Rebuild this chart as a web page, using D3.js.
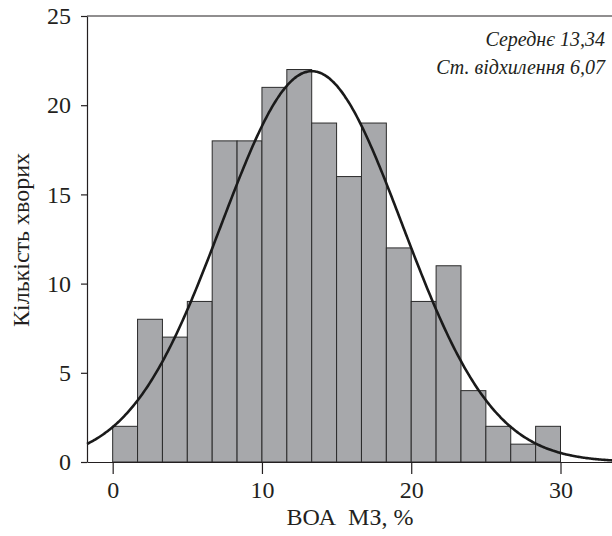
<!DOCTYPE html>
<html>
<head>
<meta charset="utf-8">
<script src="https://cdn.jsdelivr.net/npm/d3@7"></script>
<style>
  body { margin: 0; background: #fff; }
  text { font-family: "Liberation Serif", "DejaVu Serif", serif; fill: #231f20; }
</style>
</head>
<body>
<div id="chart"></div>
<script>
// Histogram data: 18 bins of equal width from 0 to 30 %
const binEdges = d3.range(19).map(i => i * 30 / 18);
const counts = [2, 8, 7, 9, 18, 18, 21, 22, 19, 16, 19, 12, 9, 11, 4, 2, 1, 2];
const xTicks = [0, 10, 20, 30];
const yTicks = [0, 5, 10, 15, 20, 25];
const mean = 13.34, sd = 6.07;
const statLines = ["Середнє 13,34", "Ст. відхилення 6,07"];

const margin = { top: 16, right: 0, bottom: 74, left: 87 },
      width = 612 - margin.left - margin.right,
      height = 536 - margin.top - margin.bottom;

const svg = d3.select("#chart")
  .append("svg")
    .attr("width", width + margin.left + margin.right)
    .attr("height", height + margin.top + margin.bottom)
  .append("g")
    .attr("transform", `translate(${margin.left},${margin.top})`);

const x = d3.scaleLinear()
  .domain([-1.72, 33.45])
  .range([0, width]);

const y = d3.scaleLinear()
  .domain([0, 25])
  .range([height, 0]);

// Bars
const bins = counts.map((c, i) => ({ x0: binEdges[i], x1: binEdges[i + 1], n: c }));
svg.selectAll(".bar")
  .data(bins)
  .join("rect")
  .attr("class", "bar")
  .attr("x", d => x(d.x0))
  .attr("y", d => y(d.n))
  .attr("width", d => x(d.x1) - x(d.x0))
  .attr("height", d => y(0) - y(d.n))
  .attr("fill", "#a7a8ab")
  .attr("stroke", "#2b2b2b")
  .attr("stroke-width", 1);

// Normal curve scaled to counts
const total = d3.sum(counts);
const binW = binEdges[1] - binEdges[0];
const pts = d3.range(-1.72, 33.5, 0.1).map(v => [v,
  total * binW * Math.exp(-0.5 * ((v - mean) / sd) ** 2) / (sd * Math.sqrt(2 * Math.PI))]);
svg.append("path")
  .datum(pts)
  .attr("fill", "none")
  .attr("stroke", "#1a1a1a")
  .attr("stroke-width", 2.6)
  .attr("d", d3.line().x(d => x(d[0])).y(d => y(d[1])).curve(d3.curveBasis));

// Frame top line
svg.append("line")
  .attr("x1", 0).attr("x2", width)
  .attr("y1", 0).attr("y2", 0)
  .attr("stroke", "#231f20").attr("stroke-width", 1.2);

// X axis
const xAxis = svg.append("g")
  .attr("transform", `translate(0,${height})`)
  .call(d3.axisBottom(x).tickValues(xTicks).tickSize(12).tickSizeOuter(0).tickPadding(7));
xAxis.select(".domain").attr("stroke", "#231f20").attr("stroke-width", 1.2);
xAxis.selectAll(".tick line").attr("stroke", "#231f20").attr("stroke-width", 1.2);
xAxis.selectAll("text").attr("font-size", 24).attr("fill", "#231f20");

// Y axis
const yAxis = svg.append("g")
  .call(d3.axisLeft(y).tickValues(yTicks).tickSize(6).tickSizeOuter(0).tickPadding(10));
yAxis.select(".domain").attr("stroke", "#231f20").attr("stroke-width", 1.2);
yAxis.selectAll(".tick line").attr("stroke", "#231f20").attr("stroke-width", 1.2);
yAxis.selectAll("text").attr("font-size", 24).attr("fill", "#231f20");

// Axis titles
svg.append("text")
  .attr("x", 263)
  .attr("y", height + 63)
  .attr("text-anchor", "middle")
  .attr("font-size", 24)
  .style("white-space", "pre")
  .text("ВОА  МЗ, %");

svg.append("text")
  .attr("transform", `translate(-58,${height / 2 + 1}) rotate(-90)`)
  .attr("text-anchor", "middle")
  .attr("font-size", 24)
  .text("Кількість хворих");

// Stats annotation
svg.selectAll(".stat")
  .data(statLines)
  .join("text")
  .attr("class", "stat")
  .attr("x", width - 7)
  .attr("y", (d, i) => 30 + i * 28)
  .attr("text-anchor", "end")
  .attr("font-size", 20)
  .attr("font-style", "italic")
  .text(d => d);
</script>
</body>
</html>
